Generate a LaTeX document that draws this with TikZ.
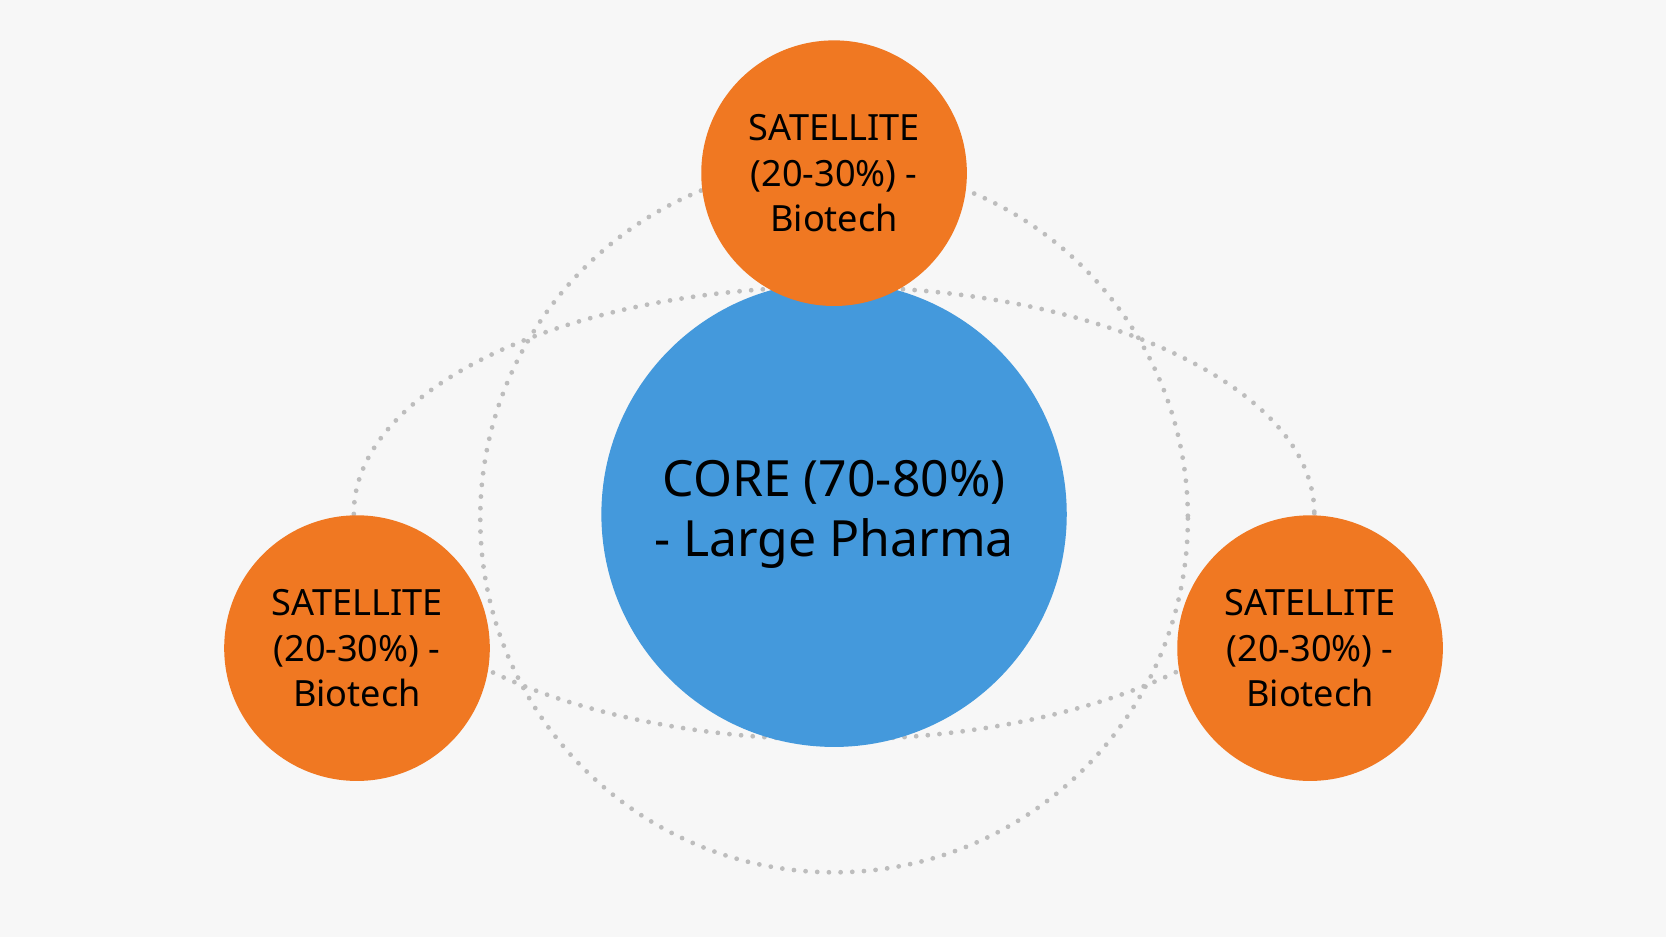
\documentclass[tikz,border=0pt]{standalone}
\usepackage{fontspec}
\setmainfont{Noto Sans}
\definecolor{bg}{HTML}{F7F7F7}
\definecolor{orng}{HTML}{F07822}
\definecolor{blu}{HTML}{4499DC}
\definecolor{dotc}{HTML}{BDBDBD}
\begin{document}
\begin{tikzpicture}[x=1pt,y=-1pt,
  sat/.style={circle,fill=orng,minimum size=250pt,inner sep=0pt,align=center,font=\fontsize{34}{43}\selectfont},
  orbit/.style={draw=dotc,line width=4.5pt,line cap=round,dash pattern=on 0pt off 11pt}]
\fill[bg] (0,0) rectangle (1568,882);
\useasboundingbox (0,0) rectangle (1568,882);
\draw[orbit] (785,483) ellipse [x radius=452, y radius=213];
\draw[orbit] (785,488) circle [radius=333];
\node[circle,fill=blu,minimum size=438pt,inner sep=0pt,align=center,font=\fontsize{47}{57}\selectfont] (core) at (785,484) {CORE (70-80\%)\\- Large Pharma};
\node[sat] (top) at (785,163) {SATELLITE\\(20-30\%) -\\Biotech};
\node[sat] (left) at (336,610) {SATELLITE\\(20-30\%) -\\Biotech};
\node[sat] (right) at (1233,610) {SATELLITE\\(20-30\%) -\\Biotech};
\end{tikzpicture}
\end{document}
